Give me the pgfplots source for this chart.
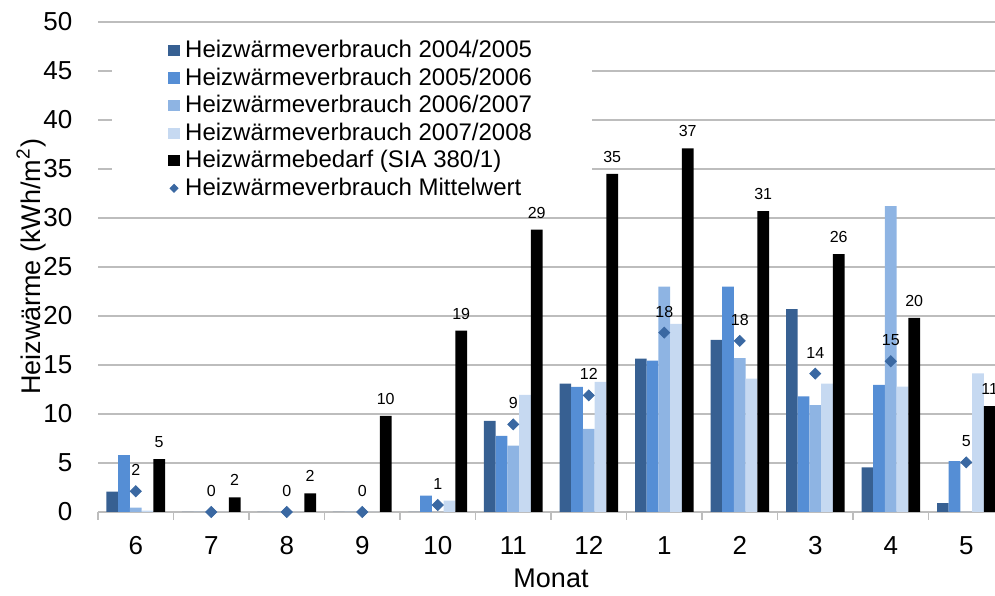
\documentclass[border=0pt]{standalone}
\usepackage{fontspec}
\setmainfont{Liberation Sans}
\usepackage{pgfplots}
\pgfplotsset{compat=1.18}
\usepackage{pgfplotstable}
\definecolor{c1}{HTML}{376092}
\definecolor{c2}{HTML}{558ED5}
\definecolor{c3}{HTML}{8EB4E3}
\definecolor{c4}{HTML}{C6D9F1}
\definecolor{meanc}{HTML}{3A68A2}
\definecolor{gridc}{HTML}{BDBDBD}

\pgfplotstableread{
x a b c d s m ml sl
0 2.07 5.8 0.45 0.13 5.4 2.11 2 5
1 0 0 0 0 1.5 0 0 2
2 0 0 0 0 1.9 0 0 2
3 0 0 0 0 9.8 0 0 10
4 0 1.67 0 1.16 18.5 0.71 1 19
5 9.29 7.76 6.77 11.94 28.8 8.94 9 29
6 13.1 12.76 8.47 13.27 34.5 11.9 12 35
7 15.65 15.44 23.0 19.2 37.1 18.3 18 37
8 17.55 23.0 15.7 13.6 30.7 17.46 18 31
9 20.7 11.8 10.9 13.1 26.3 14.12 14 26
10 4.55 12.96 31.2 12.8 19.8 15.38 15 20
11 0.9 5.2 0 14.15 10.8 5.06 5 11
}\data

\pgfplotsset{
  sq legend/.style={legend image code/.code={\fill[##1] (0pt,-2.8pt) rectangle (5.6pt,2.8pt);}},
}

\begin{document}
\begin{tikzpicture}
\begin{axis}[
  scale only axis, width=453pt, height=245pt,
  xmin=-0.5, xmax=11.5, ymin=0, ymax=50,
  xtick={0,...,11}, xticklabels={6,7,8,9,10,11,12,1,2,3,4,5},
  minor xtick={-0.5,0.5,...,11.5},
  major x tick style={draw=none},
  minor x tick style={gridc, line width=0.6pt},
  minor tick length=4pt,
  tick align=outside,
  ytick={0,5,...,50},
  ytick style={draw=none},
  ymajorgrids, grid style={gridc, line width=0.6pt},
  axis x line*=bottom, axis y line*=left,
  x axis line style={gridc, line width=0.6pt, -},
  y axis line style={draw=none},
  tick label style={font=\fontsize{13}{15}\selectfont},
  /pgf/number format/assume math mode=true,
  xticklabel style={yshift=-4.5pt},
  yticklabel style={xshift=-5pt},
  xlabel={Monat}, ylabel={Heizwärme (kWh/m\textsuperscript{2})},
  label style={font=\fontsize{13.5}{15}\selectfont},
  xlabel style={yshift=0pt},
  ylabel style={yshift=-8pt},
  legend cell align=left,
  legend style={at={(0.0155,0.976)}, anchor=north west, draw=none, fill=white,
    inner xsep=28pt, inner ysep=1pt, font=\fontsize{12}{13.7}\selectfont,
    row sep=-0.4pt,
    /tikz/every odd column/.append style={column sep=0.8pt}},
]
\addplot[ybar, bar width=0.155, bar shift=-0.31, fill=c1, draw=none, sq legend] table[x=x, y=a] {\data};
\addlegendentry{Heizwärmeverbrauch 2004/2005}
\addplot[ybar, bar width=0.155, bar shift=-0.155, fill=c2, draw=none, sq legend] table[x=x, y=b] {\data};
\addlegendentry{Heizwärmeverbrauch 2005/2006}
\addplot[ybar, bar width=0.155, bar shift=0, fill=c3, draw=none, sq legend] table[x=x, y=c] {\data};
\addlegendentry{Heizwärmeverbrauch 2006/2007}
\addplot[ybar, bar width=0.155, bar shift=0.155, fill=c4, draw=none, sq legend] table[x=x, y=d] {\data};
\addlegendentry{Heizwärmeverbrauch 2007/2008}
\addplot[ybar, bar width=0.155, bar shift=0.31, fill=black, draw=none, sq legend,
  nodes near coords, point meta=explicit symbolic,
  every node near coord/.style={font=\fontsize{8}{9}\selectfont, inner sep=0pt, anchor=south, yshift=5.5pt, xshift=11.7pt, black}]
  table[x=x, y=s, meta=sl] {\data};
\addlegendentry{Heizwärmebedarf (SIA 380/1)}
\addplot[only marks, mark=square*, mark size=1.95pt, mark options={rotate=45, fill=meanc, draw=meanc},
  nodes near coords, point meta=explicit symbolic,
  every node near coord/.style={font=\fontsize{8}{9}\selectfont, inner sep=0pt, anchor=south, yshift=7.5pt, black},
  legend image code/.code={\fill[meanc] (2.8pt,0pt) +(0,-2pt) -- +(2pt,0) -- +(0,2pt) -- +(-2pt,0) -- cycle;}]
  table[x=x, y=m, meta=ml] {\data};
\addlegendentry{Heizwärmeverbrauch Mittelwert}
\end{axis}
\pgfresetboundingbox
\path[use as bounding box] ([xshift=-49pt,yshift=-42pt]current axis.south west) rectangle ([xshift=448.5pt,yshift=11pt]current axis.north west);
\end{tikzpicture}
\end{document}
